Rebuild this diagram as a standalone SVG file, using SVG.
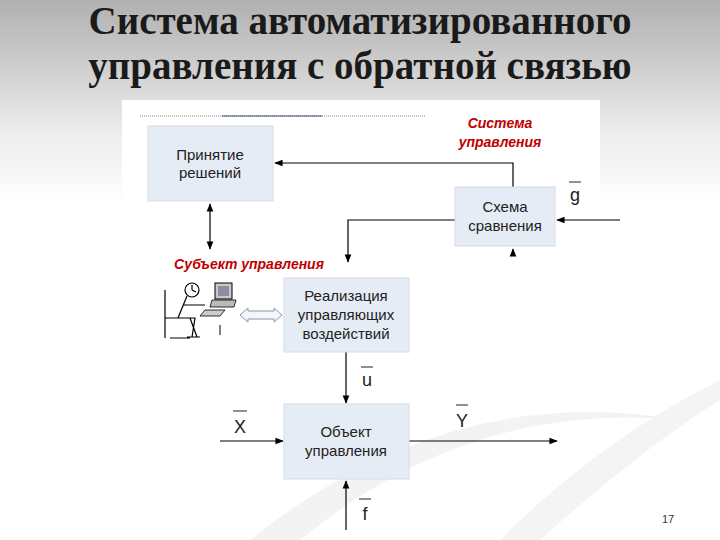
<svg xmlns="http://www.w3.org/2000/svg" width="720" height="540" viewBox="0 0 720 540">
<defs>
<linearGradient id="bg" x1="0" y1="0" x2="0" y2="1"><stop offset="0" stop-color="#b0b0b0"/><stop offset="0.25" stop-color="#eeeeee"/><stop offset="0.38" stop-color="#ffffff"/></linearGradient>
<marker id="ah" viewBox="0 0 10 10" refX="9" refY="5" markerWidth="7" markerHeight="7" orient="auto-start-reverse"><path d="M0,1 L10,5 L0,9 z" fill="#000"/></marker>
<style>
.box{fill:#e6ecf5;stroke:#d5dce6;stroke-width:1}
.t{font-family:"Liberation Sans",Arial,sans-serif;font-size:15px;fill:#222;text-anchor:middle}
.lab{font-family:"Liberation Sans",Arial,sans-serif;font-size:18px;fill:#222;text-anchor:middle}
.red{font-family:"Liberation Sans",Arial,sans-serif;font-size:14px;font-weight:bold;font-style:italic;fill:#c00000;text-anchor:middle}
.ln{stroke:#000;stroke-width:1.2;fill:none}
.ic{stroke:#000;stroke-width:1.2;fill:none}
</style>
</defs>
<rect width="720" height="540" fill="url(#bg)"/>
<rect x="122" y="100" width="478" height="440" fill="#fff"/>
<path d="M250,540 Q450,380 680,420 Q470,400 300,540 z" fill="#f3f3f3"/>
<path d="M500,540 Q600,440 720,380 L720,400 Q640,450 540,540 z" fill="#f4f4f4"/>
<text x="360" y="34" font-family="Liberation Serif,serif" font-size="39" font-weight="bold" fill="#1a1a1a" text-anchor="middle">Система автоматизированного</text>
<text x="360" y="79" font-family="Liberation Serif,serif" font-size="39" font-weight="bold" fill="#1a1a1a" text-anchor="middle">управления с обратной связью</text>
<line x1="140" y1="116" x2="425" y2="116" stroke="#666" stroke-width="0.8" stroke-dasharray="1,1"/>
<line x1="222" y1="116" x2="322" y2="116" stroke="#4a4a8a" stroke-width="1"/>
<g id="connectors">
<polyline class="ln" points="513,187 513,163 275,163" marker-end="url(#ah)"/>
<line class="ln" x1="210" y1="204" x2="210" y2="249" marker-start="url(#ah)" marker-end="url(#ah)"/>
<polyline class="ln" points="455,220 348,220 348,262" marker-end="url(#ah)"/>
<line class="ln" x1="620" y1="220" x2="557" y2="220" marker-end="url(#ah)"/>
<line class="ln" x1="513" y1="256" x2="513" y2="249" marker-end="url(#ah)"/>
<line class="ln" x1="346" y1="352" x2="346" y2="403" marker-end="url(#ah)"/>
<line class="ln" x1="220" y1="441" x2="283" y2="441" marker-end="url(#ah)"/>
<line class="ln" x1="409" y1="441" x2="557" y2="441" marker-end="url(#ah)"/>
<line class="ln" x1="346" y1="530" x2="346" y2="481" marker-end="url(#ah)"/>
<path d="M240,315 L248,308 L248,311 L274,311 L274,308 L282,315 L274,322 L274,319 L248,319 L248,322 z" fill="#f4f6fa" stroke="#8a96aa" stroke-width="1"/>
</g>
<g id="n1"><rect class="box" x="148" y="126" width="125" height="75"/><text class="t" x="210" y="160">Принятие</text><text class="t" x="210" y="178">решений</text></g>
<g id="n2"><rect class="box" x="455" y="187" width="100" height="59"/><text class="t" x="505" y="212">Схема</text><text class="t" x="505" y="231">сравнения</text></g>
<g id="n3"><rect class="box" x="284" y="278" width="125" height="74"/><text class="t" x="346" y="301">Реализация</text><text class="t" x="346" y="320">управляющих</text><text class="t" x="346" y="339">воздействий</text></g>
<g id="n4"><rect class="box" x="284" y="404" width="125" height="75"/><text class="t" x="346" y="437">Объект</text><text class="t" x="346" y="456">управления</text></g>
<g id="labels">
<text class="red" x="500" y="128">Система</text><text class="red" x="500" y="147">управления</text>
<text class="red" x="249" y="269">Субъект управления</text>
<text class="lab" x="575" y="201">g</text><line x1="569" y1="182" x2="581" y2="182" stroke="#222"/>
<text class="lab" x="367" y="386">u</text><line x1="361" y1="367" x2="373" y2="367" stroke="#222"/>
<text class="lab" x="240" y="433">X</text><line x1="233" y1="411" x2="247" y2="411" stroke="#222"/>
<text class="lab" x="462" y="427">Y</text><line x1="456" y1="405" x2="468" y2="405" stroke="#222"/>
<text class="lab" x="365" y="520">f</text><line x1="359" y1="499" x2="371" y2="499" stroke="#222"/>
<text x="668" y="523" font-family="Liberation Sans,Arial,sans-serif" font-size="11" fill="#333" text-anchor="middle">17</text>
</g>
<g id="person">
<circle class="ic" cx="192" cy="290" r="7"/>
<path class="ic" d="M192,290 L192,285 M192,290 L196,292"/>
<path class="ic" d="M187,296 L178,318 L195,318 L192,337 M183,305 L205,305 M190,318 L197,337 M165,290 L165,338 M165,318 L190,318 M170,338 L190,338 M187,337 L200,337"/>
<rect x="215" y="283" width="17" height="16" fill="#c8c8c8" stroke="#000" stroke-width="1"/>
<rect x="218" y="286" width="11" height="10" fill="#8890a0"/>
<path d="M212,300 L236,300 L234,307 L210,307 z" fill="#bbb" stroke="#000" stroke-width="0.8"/>
<path d="M205,310 L225,310 L220,316 L200,316 z" fill="#ccc" stroke="#000" stroke-width="0.8"/>
<line x1="220" y1="325" x2="220" y2="335" stroke="#000"/>
</g>
</svg>
